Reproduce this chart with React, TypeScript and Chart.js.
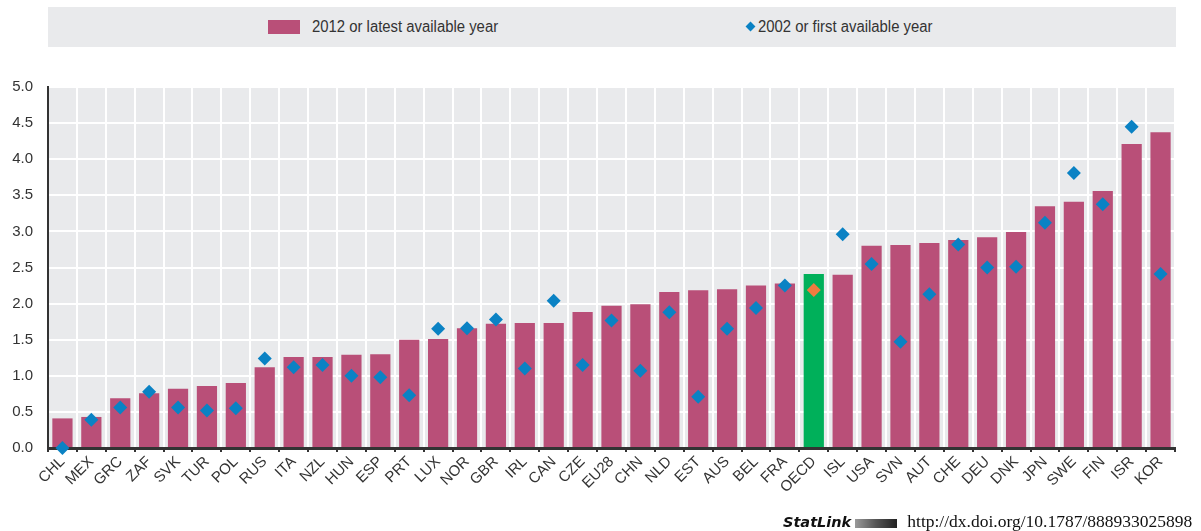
import React, { useEffect, useRef } from "react";
import { Chart, registerables } from "chart.js";

Chart.register(...registerables);

const categories = [
  "CHL", "MEX", "GRC", "ZAF", "SVK", "TUR", "POL", "RUS", "ITA", "NZL",
  "HUN", "ESP", "PRT", "LUX", "NOR", "GBR", "IRL", "CAN", "CZE", "EU28",
  "CHN", "NLD", "EST", "AUS", "BEL", "FRA", "OECD", "ISL", "USA", "SVN",
  "AUT", "CHE", "DEU", "DNK", "JPN", "SWE", "FIN", "ISR", "KOR",
];

const latestYear = [
  0.41, 0.43, 0.69, 0.76, 0.82, 0.86, 0.90, 1.12, 1.26, 1.26,
  1.29, 1.30, 1.50, 1.51, 1.66, 1.72, 1.73, 1.73, 1.885, 1.97,
  1.99, 2.16, 2.185, 2.20, 2.25, 2.28, 2.41, 2.40, 2.80, 2.81,
  2.84, 2.88, 2.92, 2.99, 3.35, 3.41, 3.56, 4.21, 4.375,
];

const firstYear = [
  0.0, 0.39, 0.56, 0.78, 0.56, 0.52, 0.55, 1.24, 1.12, 1.15,
  1.00, 0.98, 0.73, 1.65, 1.66, 1.78, 1.10, 2.04, 1.15, 1.765,
  1.07, 1.88, 0.71, 1.65, 1.94, 2.25, 2.19, 2.96, 2.55, 1.47,
  2.13, 2.82, 2.50, 2.51, 3.12, 3.81, 3.375, 4.45, 2.41,
];

const yTickValues = [0, 0.5, 1, 1.5, 2, 2.5, 3, 3.5, 4, 4.5, 5];

const seriesLabels = ["2012 or latest available year", "2002 or first available year"];
const highlight = "OECD";

const PINK = "#b94f78";
const BLUE = "#0a82c4";
const GREEN = "#00b05a";
const ORANGE = "#f07b3f";
const GREY_BG = "#e9eaec";
const TEXT = "#333333";
const FONT = "'Liberation Sans Narrow', 'Arial Narrow', 'Liberation Sans', Arial, sans-serif";

const bgPlugin = {
  id: "plotBg",
  beforeDraw(chart: any) {
    const { ctx, chartArea } = chart;
    if (!chartArea) return;
    ctx.save();
    ctx.fillStyle = GREY_BG;
    ctx.fillRect(chartArea.left, chartArea.top, chartArea.right - chartArea.left, chartArea.bottom - chartArea.top);
    ctx.restore();
  },
};

export default function App() {
  const canvasRef = useRef<HTMLCanvasElement | null>(null);

  useEffect(() => {
    if (!canvasRef.current) return;
    const barColors = categories.map((c) => (c === highlight ? GREEN : PINK));
    const pointColors = categories.map((c) => (c === highlight ? ORANGE : BLUE));
    const chart = new Chart(canvasRef.current, {
      type: "bar",
      data: {
        labels: categories,
        datasets: [
          {
            type: "line" as any,
            label: seriesLabels[1],
            data: firstYear,
            showLine: false,
            clip: false,
            pointStyle: "rectRot",
            pointRadius: 7,
            pointHoverRadius: 7,
            pointBackgroundColor: pointColors,
            pointBorderWidth: 0,
            borderColor: BLUE,
            order: 0,
          } as any,
          {
            type: "bar",
            label: seriesLabels[0],
            data: latestYear,
            backgroundColor: barColors,
            borderWidth: 0,
            barPercentage: 0.7,
            categoryPercentage: 1.0,
            order: 1,
          },
        ],
      },
      options: {
        responsive: false,
        animation: false,
        devicePixelRatio: 1,
        layout: { padding: { top: 87, right: 26, left: 0, bottom: 0 } },
        plugins: { legend: { display: false }, tooltip: { enabled: false } },
        scales: {
          x: {
            type: "category",
            offset: true,
            grid: {
              offset: true,
              color: "#ffffff",
              lineWidth: 2,
              tickColor: TEXT,
              tickLength: 4,
            },
            border: { color: TEXT, width: 3 },
            ticks: {
              autoSkip: false,
              minRotation: 45,
              maxRotation: 45,
              color: TEXT,
              padding: 1,
              font: { family: FONT, size: 15 },
            },
            afterFit: (s: any) => {
              s.height = 83;
            },
          },
          y: {
            min: 0,
            max: 5,
            afterBuildTicks: (s: any) => {
              s.ticks = yTickValues.map((v) => ({ value: v }));
            },
            ticks: {
              color: TEXT,
              padding: 15,
              font: { family: FONT, size: 15 },
              callback: (v: any) => Number(v).toFixed(1),
            },
            grid: { color: "#ffffff", lineWidth: 2, drawTicks: false },
            border: { color: TEXT, width: 2 },
            afterFit: (s: any) => {
              s.width = 48;
            },
          },
        },
      },
      plugins: [bgPlugin],
    });
    return () => chart.destroy();
  }, []);

  const legendText: React.CSSProperties = {
    position: "absolute",
    top: 10,
    lineHeight: "20px",
    whiteSpace: "nowrap",
    transform: "scaleX(0.93)",
    transformOrigin: "left center",
  };

  return (
    <div style={{ position: "fixed", left: 0, top: 0, width: 1201, height: 531, background: "#fff", overflow: "hidden" }}>
      <canvas ref={canvasRef} width={1201} height={531} style={{ position: "absolute", left: 0, top: 0 }} />
      <div
        style={{
          position: "absolute",
          left: 48,
          top: 7,
          width: 1128,
          height: 40,
          background: GREY_BG,
          fontFamily: FONT,
          fontSize: 16,
          color: TEXT,
        }}
      >
        <div style={{ position: "absolute", left: 220, top: 13, width: 32, height: 14, background: PINK }} />
        <div style={{ ...legendText, left: 264 }}>{seriesLabels[0]}</div>
        <div
          style={{
            position: "absolute",
            left: 699,
            top: 16,
            width: 7,
            height: 7,
            background: BLUE,
            transform: "rotate(45deg)",
          }}
        />
        <div style={{ ...legendText, left: 710 }}>{seriesLabels[1]}</div>
      </div>
      <div
        style={{
          position: "absolute",
          left: 783,
          top: 510,
          height: 22,
          lineHeight: "22px",
          whiteSpace: "nowrap",
          color: "#111",
        }}
      >
        <span style={{ fontFamily: "'DejaVu Sans', sans-serif", fontStyle: "italic", fontWeight: "bold", fontSize: 14.5 }}>StatLink</span>
        <span
          style={{
            display: "inline-block",
            width: 42,
            height: 9,
            margin: "0 10px 0 4px",
            background: "linear-gradient(90deg, #9a9a9a, #555 50%, #222)",
            verticalAlign: "middle",
          }}
        />
        <span style={{ fontFamily: "'Liberation Serif', 'DejaVu Serif', serif", fontSize: 17.5 }}>http://dx.doi.org/10.1787/888933025898</span>
      </div>
    </div>
  );
}
